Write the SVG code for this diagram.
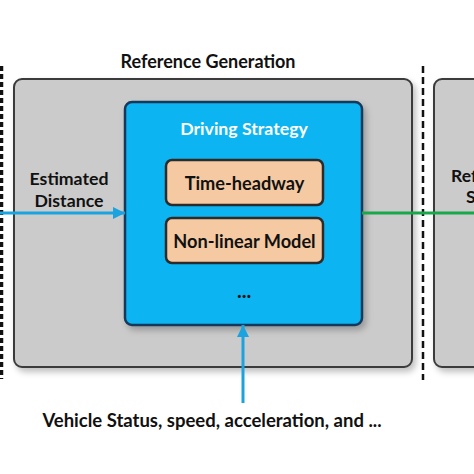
<svg xmlns="http://www.w3.org/2000/svg" width="474" height="474" viewBox="0 0 474 474">
<defs>
<filter id="sh" x="-10%" y="-10%" width="130%" height="130%">
<feDropShadow dx="3" dy="4" stdDeviation="3" flood-color="#000" flood-opacity="0.25"/>
</filter>
<filter id="sh2" x="-10%" y="-100%" width="120%" height="500%">
<feDropShadow dx="0" dy="4" stdDeviation="3" flood-color="#000" flood-opacity="0.2"/>
</filter>
<marker id="ab" viewBox="0 0 10 10" refX="10" refY="5" markerWidth="4" markerHeight="4" markerUnits="strokeWidth" orient="auto">
<path d="M0,0 L10,5 L0,10 Z" fill="#1aa3de"/>
</marker>
<style>
.t{font-family:Lato,"Open Sans","Liberation Sans",sans-serif;font-weight:bold;fill:#111;}
.outer{fill:#cbcbcb;stroke:#3a3a3a;stroke-width:2;}
.inner{fill:#f5c9a2;stroke:#2b2b2b;stroke-width:2.5;}
</style>
</defs>
<rect width="474" height="474" fill="#fff"/>
<!-- dashed separators -->
<line x1="1.5" y1="66" x2="1.5" y2="379" stroke="#111" stroke-width="3.5" stroke-dasharray="5 3"/>
<line x1="423" y1="66" x2="423" y2="380" stroke="#111" stroke-width="2.5" stroke-dasharray="7 4"/>
<line x1="0" y1="450" x2="474" y2="450" stroke="#7a7a7a" stroke-width="2" stroke-dasharray="10 6" filter="url(#sh2)"/>

<g id="reference-generation">
<rect class="outer" x="14" y="79" width="398" height="288" rx="8" filter="url(#sh)"/>
<text class="t" x="208" y="68" font-size="18" text-anchor="middle">Reference Generation</text>
</g>
<g id="right-block">
<rect class="outer" x="434" y="79" width="80" height="288" rx="8" filter="url(#sh)"/>
<text class="t" x="451" y="182" font-size="17.5">Reference</text>
<text class="t" x="466" y="203" font-size="17.5">Signal</text>
</g>
<g id="driving-strategy">
<rect x="125" y="102" width="237" height="223" rx="7" fill="#0fb4f2" stroke="#16395a" stroke-width="2.5" filter="url(#sh)"/>
<text class="t" x="244" y="135" font-size="17.7" text-anchor="middle" style="fill:#fff">Driving Strategy</text>
<text class="t" x="244" y="298" font-size="20" text-anchor="middle">...</text>
</g>
<g id="time-headway">
<rect class="inner" x="166" y="160" width="157" height="45" rx="6"/>
<text class="t" x="244.5" y="190" font-size="18.2" text-anchor="middle">Time-headway</text>
</g>
<g id="non-linear-model">
<rect class="inner" x="166" y="218" width="157" height="45" rx="6"/>
<text class="t" x="244.5" y="248" font-size="18.2" text-anchor="middle">Non-linear Model</text>
</g>
<g id="connectors">
<line x1="0" y1="213" x2="125" y2="213" stroke="#1aa3de" stroke-width="3" marker-end="url(#ab)"/>
<line x1="243" y1="403" x2="243" y2="325" stroke="#1aa3de" stroke-width="3" marker-end="url(#ab)"/>
<line x1="362" y1="213" x2="474" y2="213" stroke="#1aa64b" stroke-width="3"/>
</g>
<g id="labels">
<text class="t" x="69" y="185" font-size="17.7" text-anchor="middle">Estimated</text>
<text class="t" x="69" y="207" font-size="17.7" text-anchor="middle">Distance</text>
<text class="t" x="212" y="427" font-size="18.5" text-anchor="middle">Vehicle Status, speed, acceleration, and ...</text>
</g>
</svg>
